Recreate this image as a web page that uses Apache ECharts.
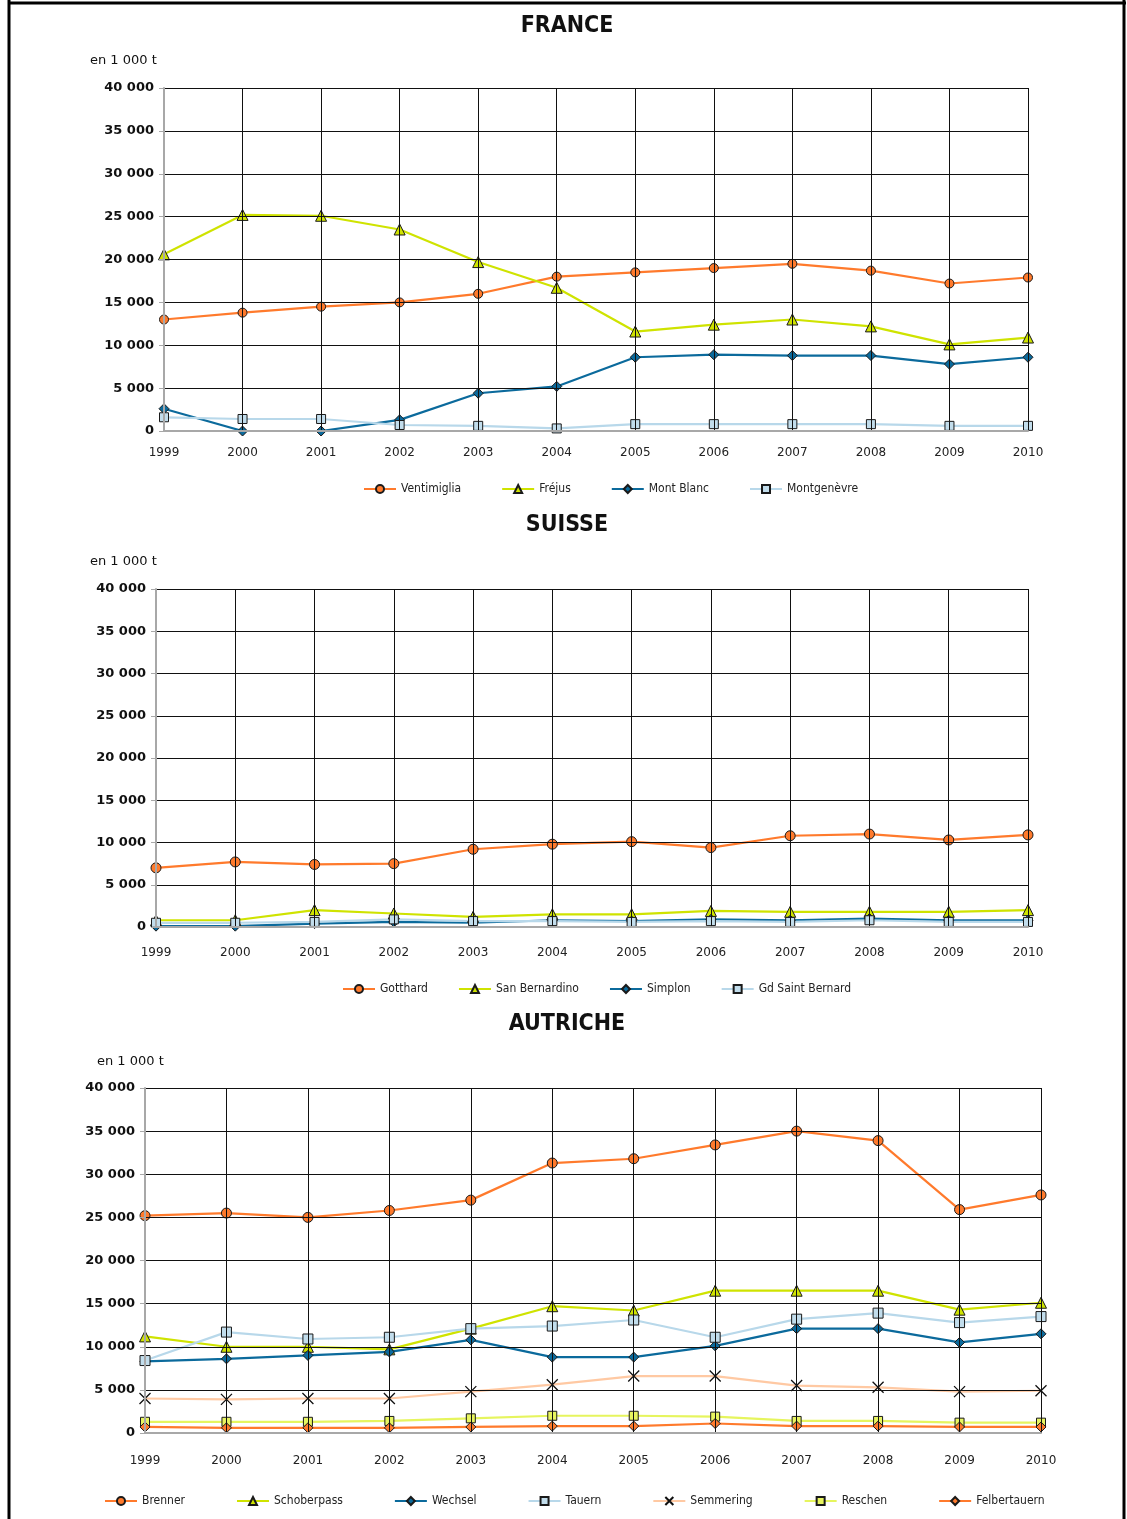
<!DOCTYPE html>
<html>
<head>
<meta charset="utf-8">
<script src="https://cdn.jsdelivr.net/npm/echarts@6/dist/echarts.min.js"></script>
<style>
html,body{margin:0;padding:0;background:#fff;}
#c{width:1127px;height:1519px;}
</style>
</head>
<body>
<div id="c"></div>
<script>
const years = ['1999','2000','2001','2002','2003','2004','2005','2006','2007','2008','2009','2010'];
const yTicks = [0,5000,10000,15000,20000,25000,30000,35000,40000];

// FRANCE
const ventimiglia = [13000,13800,14500,15000,16000,18000,18500,19000,19500,18700,17200,17900];
const frejus = [20600,25200,25100,23500,19700,16700,11600,12400,13000,12200,10100,10900];
const montBlanc = [2600,0,0,1300,4400,5200,8600,8900,8800,8800,7800,8600];
const montgenevre = [1600,1400,1400,700,600,300,800,800,800,800,600,600];
// SUISSE
const gotthard = [7000,7700,7400,7500,9200,9800,10100,9400,10800,11000,10300,10900];
const sanBernardino = [800,800,2000,1600,1200,1500,1500,1900,1800,1800,1800,2000];
const simplon = [100,100,400,600,500,800,700,900,800,1000,800,800];
const gdSaintBernard = [500,500,600,900,700,700,600,700,600,800,600,600];
// AUTRICHE
const brenner = [25200,25500,25000,25800,27000,31300,31800,33400,35000,33900,25900,27600];
const schoberpass = [11200,10000,10000,9700,12100,14700,14200,16500,16500,16500,14300,15100];
const wechsel = [8300,8600,9000,9400,10800,8800,8800,10100,12100,12100,10500,11500];
const tauern = [8400,11700,10900,11100,12100,12400,13100,11100,13200,13900,12800,13500];
const semmering = [4000,3900,4000,4000,4800,5600,6600,6600,5500,5300,4800,4900];
const reschen = [1300,1300,1300,1400,1700,2000,2000,1900,1400,1400,1200,1200];
const felbertauern = [700,600,600,600,700,800,800,1100,800,800,700,700];

const ORANGE = '#ff7a2c', YG = '#cfe300', BLUE = '#0b6a9c', LBLUE = '#b8d8ea',
      PEACH = '#ffc9a3', PALEY = '#e6f55e';
const CROSS = 'path://M0,0L10,10M10,0L0,10';

function fmt(v){ return String(v).replace(/\B(?=(\d{3})+(?!\d))/g,' '); }

function mk(name, data, idx, lineColor, fill, symbol, size, z){
  return {
    name, type:'line', data, xAxisIndex:idx, yAxisIndex:idx,
    symbol, symbolSize:size, showSymbol:true, animation:false, z: z||2,
    lineStyle:{color:lineColor, width:2.2},
    itemStyle:{color:fill, borderColor: symbol===CROSS ? '#111' : '#1a1a1a', borderWidth: symbol===CROSS ? 1.3 : 1},
    emphasis:{disabled:true}
  };
}

const grids = [
  {left:164, right:99, top:88, height:343},
  {left:156, right:99, top:589, height:338},
  {left:145, right:86, top:1088, height:345}
];
const xMargins = [16, 20, 22];

const xAxes = grids.map((g,i)=>({
  type:'category', gridIndex:i, data:years, boundaryGap:false,
  axisLine:{show:true, lineStyle:{color:'#a8a8a8', width:2}},
  axisTick:{show:false},
  axisLabel:{color:'#222', fontSize:12, fontFamily:'DejaVu Sans', margin:xMargins[i]},
  splitLine:{show:true, lineStyle:{color:'#111', width:1}},
  z:3
}));
const yAxes = grids.map((g,i)=>({
  type:'value', gridIndex:i, min:0, max:40000, interval:5000,
  axisLine:{show:true, lineStyle:{color:'#a8a8a8', width:2}},
  axisTick:{show:true, length:5, lineStyle:{color:'#a8a8a8'}},
  axisLabel:{color:'#111', fontSize:13, fontWeight:'bold', fontFamily:'DejaVu Sans', margin:10, formatter:fmt},
  splitLine:{show:true, lineStyle:{color:'#111', width:1}},
  z:3
}));

const series = [
  mk('Ventimiglia', ventimiglia, 0, ORANGE, ORANGE, 'circle', 9),
  mk('Fréjus', frejus, 0, YG, YG, 'triangle', 11),
  mk('Mont Blanc', montBlanc, 0, BLUE, BLUE, 'diamond', 10),
  mk('Montgenèvre', montgenevre, 0, LBLUE, '#c2ddec', 'rect', 9),
  mk('Gotthard', gotthard, 1, ORANGE, ORANGE, 'circle', 10),
  mk('San Bernardino', sanBernardino, 1, YG, YG, 'triangle', 11),
  mk('Simplon', simplon, 1, BLUE, BLUE, 'diamond', 10),
  mk('Gd Saint Bernard', gdSaintBernard, 1, LBLUE, '#c2ddec', 'rect', 9),
  mk('Brenner', brenner, 2, ORANGE, ORANGE, 'circle', 10),
  mk('Schoberpass', schoberpass, 2, YG, YG, 'triangle', 11),
  mk('Wechsel', wechsel, 2, BLUE, BLUE, 'diamond', 10),
  mk('Tauern', tauern, 2, LBLUE, '#c2ddec', 'rect', 10),
  mk('Semmering', semmering, 2, PEACH, 'rgba(0,0,0,0)', CROSS, 11),
  mk('Reschen', reschen, 2, PALEY, '#e8f560', 'rect', 9),
  mk('Felbertauern', felbertauern, 2, ORANGE, ORANGE, 'diamond', 10)
];

const legendText = {color:'#222', fontSize:12, fontFamily:'DejaVu Sans Condensed'};
const legends = [
  {data:['Ventimiglia','Fréjus','Mont Blanc','Montgenèvre'], left:358, top:478, itemGap:40},
  {data:['Gotthard','San Bernardino','Simplon','Gd Saint Bernard'], left:337, top:978, itemGap:30},
  {data:['Brenner','Schoberpass','Wechsel','Tauern','Semmering','Reschen','Felbertauern'], left:99, top:1490, itemGap:51}
].map(l=>Object.assign({itemWidth:32, itemHeight:10, textStyle:legendText, selectedMode:false}, l));

function txt(x,y,t,size,bold,align,family){
  return {type:'text', x, y, style:{text:t, fontSize:size, fontWeight:bold?'bold':'normal',
    fontFamily:family||'DejaVu Sans', fill:'#111', textAlign:align||'left', textVerticalAlign:'middle'}, z:10};
}

const graphic = [
  {type:'line', shape:{x1:9, y1:0, x2:9, y2:1519}, style:{stroke:'#000', lineWidth:3}},
  {type:'line', shape:{x1:1124, y1:0, x2:1124, y2:1519}, style:{stroke:'#000', lineWidth:3}},
  {type:'line', shape:{x1:8, y1:3, x2:1126, y2:3}, style:{stroke:'#000', lineWidth:3}},
  txt(567,26,'FRANCE',23,true,'center','DejaVu Sans Condensed'),
  txt(567,525,'SUISSE',23,true,'center','DejaVu Sans Condensed'),
  txt(567,1024,'AUTRICHE',23,true,'center','DejaVu Sans Condensed'),
  txt(90,61,'en 1 000 t',13,false,'left'),
  txt(90,562,'en 1 000 t',13,false,'left'),
  txt(97,1062,'en 1 000 t',13,false,'left')
];

const chart = echarts.init(document.getElementById('c'), null, {renderer:'canvas'});
chart.setOption({
  backgroundColor:'#fff',
  animation:false,
  grid:grids,
  xAxis:xAxes,
  yAxis:yAxes,
  legend:legends,
  series,
  graphic
});
</script>
</body>
</html>
